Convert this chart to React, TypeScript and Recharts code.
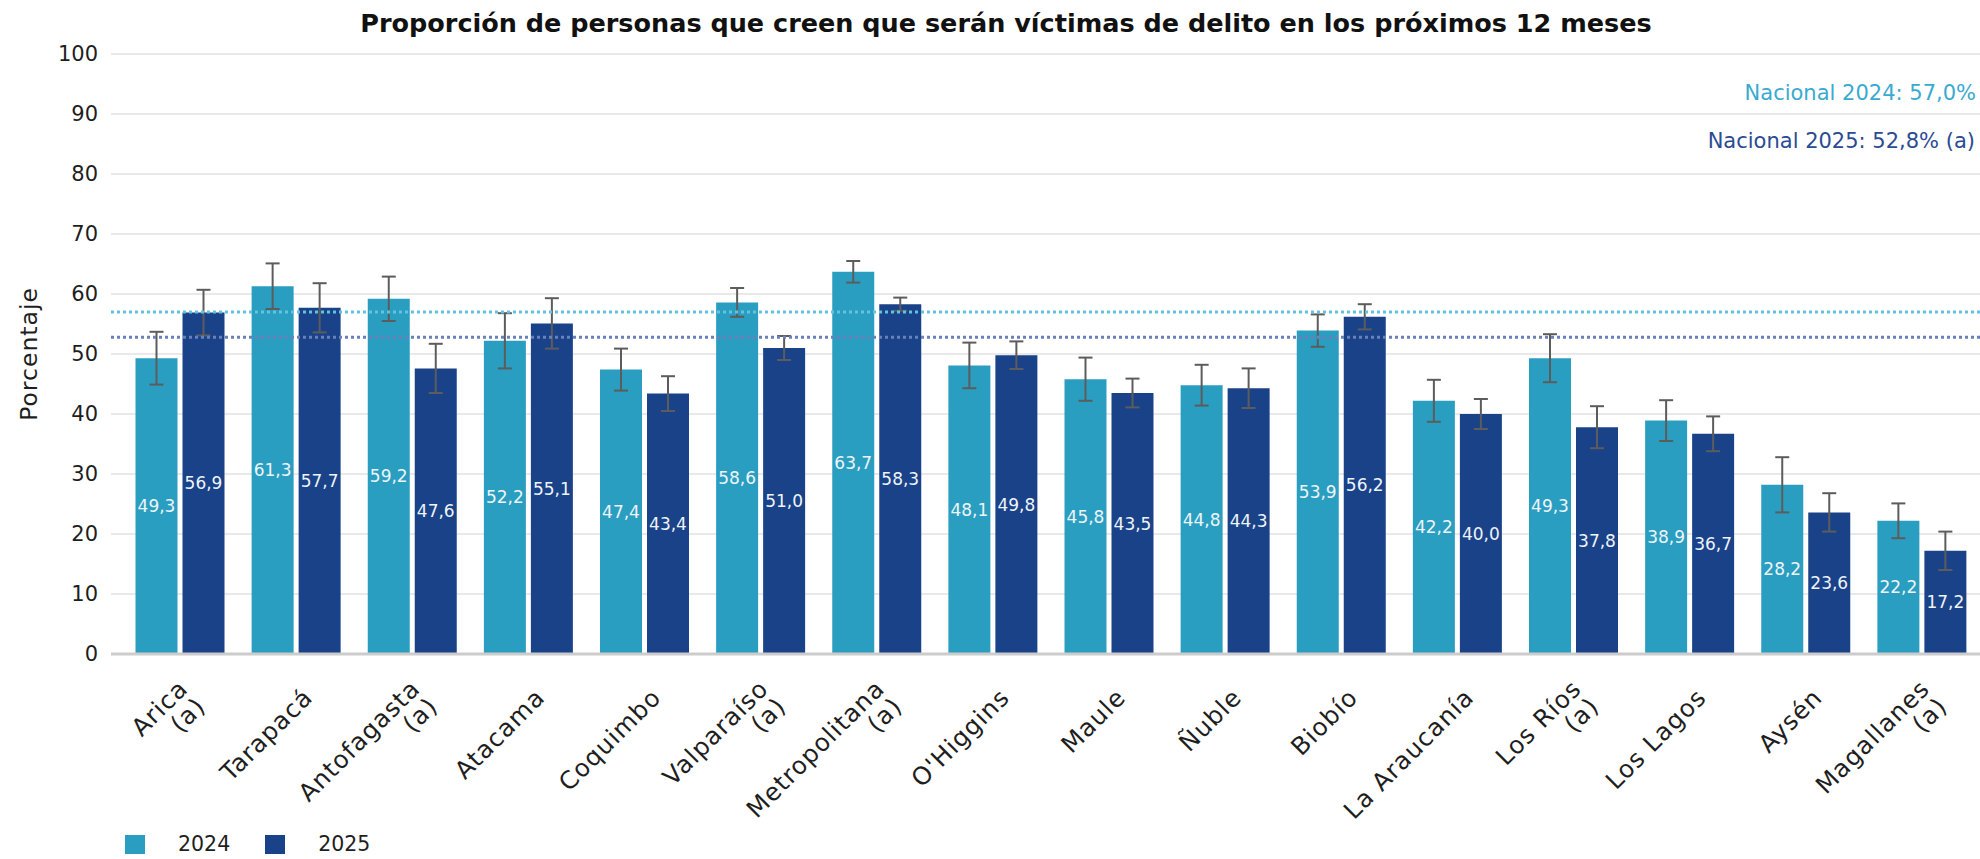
import React from "react";
import {
  BarChart,
  Bar,
  XAxis,
  YAxis,
  CartesianGrid,
  ReferenceLine,
  ErrorBar,
  LabelList,
} from "recharts";

const regions = [
  "Arica\n(a)",
  "Tarapacá",
  "Antofagasta\n(a)",
  "Atacama",
  "Coquimbo",
  "Valparaíso\n(a)",
  "Metropolitana\n(a)",
  "O'Higgins",
  "Maule",
  "Ñuble",
  "Biobío",
  "La Araucanía",
  "Los Ríos\n(a)",
  "Los Lagos",
  "Aysén",
  "Magallanes\n(a)",
];

const values2024 = [49.3, 61.3, 59.2, 52.2, 47.4, 58.6, 63.7, 48.1, 45.8, 44.8, 53.9, 42.2, 49.3, 38.9, 28.2, 22.2];
const values2025 = [56.9, 57.7, 47.6, 55.1, 43.4, 51.0, 58.3, 49.8, 43.5, 44.3, 56.2, 40.0, 37.8, 36.7, 23.6, 17.2];
const errors2024 = [4.4, 3.8, 3.7, 4.6, 3.5, 2.4, 1.8, 3.8, 3.6, 3.4, 2.7, 3.5, 4.0, 3.4, 4.6, 2.9];
const errors2025 = [3.8, 4.1, 4.1, 4.2, 2.9, 2.0, 1.1, 2.3, 2.4, 3.3, 2.1, 2.5, 3.5, 2.9, 3.2, 3.2];

const yTicks = [0, 10, 20, 30, 40, 50, 60, 70, 80, 90, 100];
const national2024 = 57.0;
const national2025 = 52.8;

const series = [
  { key: "v2024", err: "e2024", name: "2024", color: "#2a9ec0" },
  { key: "v2025", err: "e2025", name: "2025", color: "#1a4289" },
];

const data = regions.map((region, i) => ({
  region,
  v2024: values2024[i],
  v2025: values2025[i],
  e2024: errors2024[i],
  e2025: errors2025[i],
}));

const FONT = "'DejaVu Sans', sans-serif";
const fmt = (v: number) => Number(v).toFixed(1).replace(".", ",");

// rotated region names, multi-line ones stacked around the tick
const RegionTick = (props: any) => {
  const { x, y, payload } = props;
  const lines = String(payload.value).split("\n");
  const lh = 25;
  return (
    <g transform={`translate(${x + 18},${y + 37}) rotate(-45)`}>
      <text textAnchor="end" fill="#1e1e1e" fontSize={24.5} letterSpacing={1} fontFamily={FONT}>
        {lines.map((line, i) => (
          <tspan key={i} x={0} y={(i - (lines.length - 1) / 2) * lh}>
            {line}
          </tspan>
        ))}
      </text>
    </g>
  );
};

const App: React.FC = () => {
  return (
    <div
      style={{
        position: "absolute",
        left: 0,
        top: 0,
        width: 1980,
        height: 859,
        overflow: "hidden",
        background: "#ffffff",
        fontFamily: FONT,
      }}
    >
      <div
        style={{
          position: "absolute",
          left: 0,
          top: 8,
          width: 2012,
          textAlign: "center",
          fontSize: 25.5,
          lineHeight: "30px",
          fontWeight: "bold",
          color: "#111",
        }}
      >
        Proporción de personas que creen que serán víctimas de delito en los próximos 12 meses
      </div>

      <BarChart
        width={1980}
        height={859}
        data={data}
        margin={{ top: 54, right: 0, bottom: 55, left: 0 }}
        barCategoryGap={13.5}
        barGap={5}
      >
        <CartesianGrid vertical={false} stroke="#e2e2e2" strokeWidth={1.5} />
        <XAxis
          dataKey="region"
          interval={0}
          tickLine={false}
          axisLine={{ stroke: "#cccccc", strokeWidth: 3 }}
          padding={{ left: 11, right: 0 }}
          height={150}
          tick={<RegionTick />}
        />
        <YAxis
          domain={[0, 100]}
          ticks={yTicks}
          interval={0}
          width={111}
          axisLine={false}
          tickLine={false}
          tickSize={10}
          tickMargin={3}
          tick={{ fill: "#1e1e1e", fontSize: 21, fontFamily: FONT }}
          label={{
            value: "Porcentaje",
            angle: -90,
            position: "insideLeft",
            offset: 29,
            style: {
              textAnchor: "middle",
              fontSize: 23.5,
              letterSpacing: 1,
              fill: "#1e1e1e",
              fontFamily: FONT,
            },
          }}
        />
        {series.map((s) => (
          <Bar key={s.key} dataKey={s.key} name={s.name} fill={s.color} isAnimationActive={false}>
            <LabelList
              dataKey={s.key}
              position="center"
              formatter={fmt}
              fill="#eef4f8"
              fontSize={17}
              fontFamily={FONT}
            />
            <ErrorBar dataKey={s.err} width={7} strokeWidth={2} stroke="#5c5c5c" />
          </Bar>
        ))}
        <ReferenceLine y={national2024} stroke="#62c2df" strokeWidth={3} strokeDasharray="3 3" />
        <ReferenceLine y={national2025} stroke="#6a80bb" strokeWidth={3} strokeDasharray="3 3" />
      </BarChart>

      <div
        style={{
          position: "absolute",
          right: 4,
          top: 80,
          fontSize: 21,
          lineHeight: "26px",
          color: "#3aaad0",
          whiteSpace: "nowrap",
        }}
      >
        Nacional 2024: {fmt(national2024)}%
      </div>
      <div
        style={{
          position: "absolute",
          right: 5,
          top: 128,
          fontSize: 21,
          lineHeight: "26px",
          color: "#2b4b92",
          whiteSpace: "nowrap",
        }}
      >
        Nacional 2025: {fmt(national2025)}% (a)
      </div>

      <div
        style={{
          position: "absolute",
          left: 125,
          top: 831,
          display: "flex",
          alignItems: "center",
          fontSize: 20.5,
          lineHeight: "26px",
          color: "#1e1e1e",
        }}
      >
        {series.map((s) => (
          <div key={s.key} style={{ display: "flex", alignItems: "center", marginRight: 35 }}>
            <span style={{ width: 20, height: 19, background: s.color, marginRight: 33 }} />
            <span>{s.name}</span>
          </div>
        ))}
      </div>
    </div>
  );
};

export default App;
